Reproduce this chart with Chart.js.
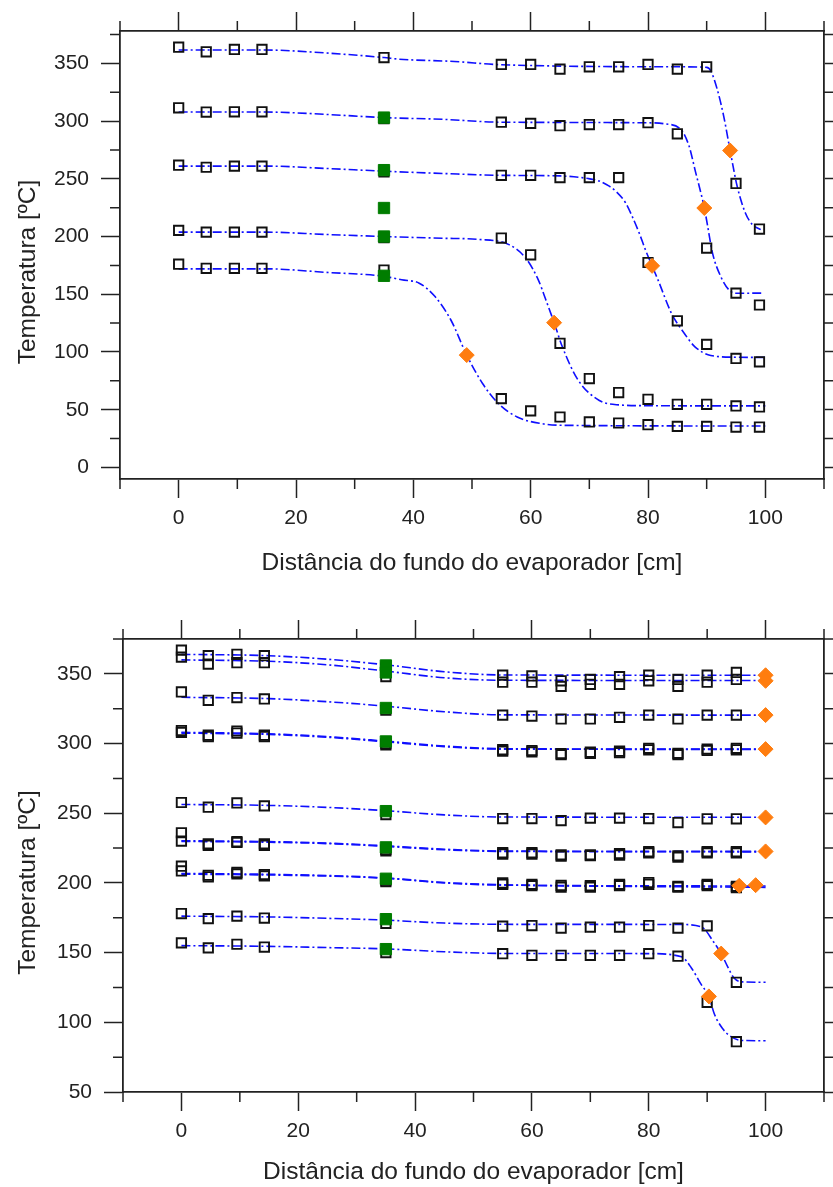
<!DOCTYPE html>
<html lang="pt">
<head>
<meta charset="utf-8">
<title>Perfis de temperatura no evaporador</title>
<script src="https://cdn.jsdelivr.net/npm/chart.js@4/dist/chart.umd.min.js"></script>
<style>
  html, body { margin: 0; padding: 0; background: #fff; }
  #wrap { position: relative; width: 833px; height: 1187px; }
  canvas { position: absolute; left: 0; }
  #chartTop { top: 0; }
  #chartBottom { top: 600px; }
</style>
</head>
<body>
<div id="wrap">
  <canvas id="chartTop" width="833" height="600"></canvas>
  <canvas id="chartBottom" width="833" height="587"></canvas>
</div>
<script>
// ---- marcas dos eixos ----
const xMajor = [0, 20, 40, 60, 80, 100];
const xMinor = [-10, 10, 30, 50, 70, 90, 110];
const yMajorTop = [0, 50, 100, 150, 200, 250, 300, 350];
const yMinorTop = [25, 75, 125, 175, 225, 275, 325, 375];
const yMajorBottom = [50, 100, 150, 200, 250, 300, 350];
const yMinorBottom = [75, 125, 175, 225, 275, 325, 375];

// ---- grafico de cima: medidas (quadrados abertos) ----
const topX  = [0, 4.7, 9.5, 14.2, 35, 55, 60, 65, 70, 75, 80, 85, 90, 95, 99];
const topS1 = [364, 360, 362, 362, 355, 349, 349, 345, 347, 347, 349, 345, 347, 246, 206.5];
const topS2 = [311.5, 307.8, 308, 308, 302, 299, 298, 296, 297, 297, 298.6, 289, 190, 151, 140.7];
const topS3 = [261.8, 260, 261, 261, 256, 253, 253, 251, 251, 251, 177.5, 127, 106.6, 94.4, 91.5];
const topS4 = [205.3, 203.8, 203.8, 203.8, 199, 198.7, 184.2, 107.5, 77, 64.9, 59, 54.7, 54.7, 53.3, 52.4];
const topS5 = [176, 172.5, 172.5, 172.5, 171, 59.6, 49, 43.7, 39.4, 38.5, 37, 35.6, 35.6, 35, 35];

// quadrados verdes e losangos laranja
const topGreenX = [35, 35, 35, 35, 35];
const topGreenY = [303, 257.5, 224.7, 200, 166];
const topDiamondX = [94, 89.6, 80.7, 64, 49.1];
const topDiamondY = [274.5, 224.7, 174.6, 125.4, 97.3];

// curvas ajustadas
const topCurve1 = [[0, 361.5], [15, 361.5], [25, 359], [35, 355], [37.6, 353.6], [47, 351.6], [55, 348.8], [85, 347], [90, 346.5], [90.7, 343.5], [91.8, 327.5], [92.9, 304.3], [94, 274.5], [95.2, 243.5], [96.6, 220.4], [97.8, 210.3], [99.2, 206]];
const topCurve2 = [[0, 307.8], [15, 307.8], [25, 305.8], [35, 303], [45, 301.5], [55, 299], [80, 298.5], [83, 297.5], [85.6, 292.8], [87, 278.3], [88.1, 256], [89, 238], [89.6, 225], [90.1, 211], [91, 185.6], [92.4, 165.4], [93.8, 153.8], [94.9, 150.9], [99.7, 151]];
const topCurve3 = [[0, 261], [15, 261], [25, 259], [35, 256.6], [45, 254.6], [55, 253], [65, 252.5], [69.8, 250.2], [71.7, 248], [73.4, 243.6], [74.5, 239.3], [76.2, 229], [77.3, 217.5], [78.5, 203], [79.6, 188], [80.7, 174.6], [81.7, 162.5], [84, 133.6], [86.2, 116], [88, 104.5], [90.7, 97], [94.8, 95.5], [100, 95.3]];
const topCurve4 = [[0, 203.8], [15, 203.8], [25, 201.8], [35, 200], [45, 198.5], [51.2, 197.5], [56.3, 193], [59.2, 181], [61.3, 162.5], [62.6, 145], [64, 125.4], [65.4, 104.5], [68.1, 75.6], [71.7, 58], [75, 54.2], [80, 53.5], [100, 53.3]];
const topCurve5 = [[0, 172], [15, 172], [25, 169], [35, 165.5], [38, 162.5], [41, 159.6], [43.7, 148], [46.4, 127.7], [49.1, 97.3], [51.8, 72.7], [54.5, 55.3], [57.7, 43.7], [61.8, 38], [65.4, 36.5], [100, 35.9]];

// ---- grafico de baixo: medidas ----
const botX   = [0, 4.6, 9.5, 14.2, 35, 55, 60, 65, 70, 75, 80, 85, 90, 95];
const botA   = [367, 363, 364, 363, 355, 349, 348.5, 345, 346, 348, 349, 346, 349, 351];
const botB   = [362, 357, 358, 358, 348, 344, 344, 341, 342.5, 342.5, 345, 341, 344, 346];
const botC   = [337, 331, 333, 332, 324, 320.4, 319.7, 317.6, 317.6, 318.8, 320.4, 317.6, 320.4, 320.4];
const botD1  = [309.3, 306, 309, 306, 300, 295.6, 295, 292.8, 293.8, 294.5, 296.6, 293, 296, 296.6];
const botD2  = [308, 305, 307.5, 305, 299, 294.5, 294, 292, 293, 293.5, 295.5, 292, 295, 295.5];
const botE   = [257.7, 254.3, 257.4, 255.3, 249, 246.2, 246.2, 244.7, 246.5, 246.5, 246.2, 243.3, 246, 246];
const botF1  = [236, 228, 229.6, 228, 224, 221.7, 221.7, 220.2, 220.2, 221, 222.4, 219.5, 222.4, 222.4];
const botF2  = [230, 227, 229, 227, 223, 220.7, 220.7, 219.2, 219.5, 220, 221.5, 218.5, 221.5, 221.5];
const botG1  = [212, 204.4, 206.5, 205, 202, 200, 199, 198.2, 198, 199, 200.3, 197.5, 199, 196.6];
const botG2  = [208.6, 205.5, 207.5, 206, 201, 199, 198, 197, 197, 198, 199, 197, 198, 197.5];
const botH   = [178, 174.4, 176.2, 174.8, 171, 169, 169.4, 167.6, 168.3, 168.3, 169.4, 167.6, 169.2, 128.7];
const botI   = [157, 153.4, 156, 154, 150, 149.2, 148.1, 148.1, 148.1, 148.1, 149.2, 147.4, 114.3, 86.1];

const botGreenX = [35, 35, 35, 35, 35, 35, 35, 35, 35];
const botGreenY = [356, 351, 325.5, 301.5, 251.5, 225.5, 203, 174, 152.5];
const botDiamondX = [100, 100, 100, 100, 100, 100, 95.5, 98.3, 92.4, 90.3];
const botDiamondY = [349, 345, 320.4, 296, 247, 222.6, 198, 198.4, 149.3, 118.6];

const botCurveA  = [[0, 364], [15, 363], [25, 360.5], [35, 356.5], [45, 351.5], [55, 349.2], [100, 349]];
const botCurveB  = [[0, 360], [15, 359], [25, 356.5], [35, 352], [45, 347.2], [55, 345.4], [100, 345.2]];
const botCurveC  = [[0, 333.2], [15, 332.2], [25, 330], [35, 326.8], [45, 322.8], [55, 320.6], [100, 320.4]];
const botCurveD1 = [[0, 308], [15, 307], [25, 305], [35, 301.7], [45, 298.2], [55, 296.3], [100, 296]];
const botCurveD2 = [[0, 307.5], [15, 306.5], [25, 304.5], [35, 301.2], [45, 297.8], [55, 296], [100, 295.8]];
const botCurveE  = [[0, 256.3], [15, 255.6], [25, 254.2], [35, 251.8], [45, 248.8], [55, 247.3], [100, 247.1]];
const botCurveF1 = [[0, 230.3], [15, 229.6], [25, 228.6], [35, 226.6], [45, 224.2], [55, 222.9], [100, 222.6]];
const botCurveF2 = [[0, 229.8], [15, 229.2], [25, 228.2], [35, 226.2], [45, 223.8], [55, 222.6], [100, 222.3]];
const botCurveG1 = [[0, 206.3], [15, 205.7], [25, 204.9], [35, 203.3], [45, 200], [55, 198.4], [100, 197.8]];
const botCurveG2 = [[0, 206.8], [15, 206.2], [25, 205.3], [35, 203.6], [45, 200.3], [55, 198.7], [100, 196.8]];
const botCurveH  = [[0, 176.2], [15, 175.6], [25, 174.6], [35, 173.3], [45, 171.2], [55, 170.3], [85, 170.2], [89, 168.5], [91.2, 157], [92.4, 149.3], [93.5, 140], [94.6, 131.8], [96, 129], [100, 128.7]];
const botCurveI  = [[0, 155], [15, 154.5], [25, 153.6], [35, 152.7], [45, 150.6], [55, 149.4], [80, 149.3], [85.6, 147], [87.3, 139], [89, 127], [90.3, 118.6], [91.2, 106.3], [92.6, 95.7], [94.1, 89.7], [95.8, 87], [100, 86.8]];

// ---- estilo ----
const FONT = "'Liberation Sans', Arial, Helvetica, sans-serif";
const INK = '#222';
const BLUE = 'rgb(15, 15, 255)';
const GREEN = 'rgb(0, 125, 0)';
const ORANGE = 'rgb(255, 125, 15)';
// espacos no fim empurram o titulo vertical um pouco para baixo, como no original
const Y_TITLE = 'Temperatura [ºC]     ';

function pairs(xs, ys) {
    return xs.map((x, i) => ({ x: x, y: ys[i] }));
}

function squares(xs, ys) {
    return {
        data: pairs(xs, ys),
        pointStyle: 'rect', pointRadius: 6.6, pointBorderWidth: 1.9,
        borderColor: '#111', backgroundColor: 'rgba(0,0,0,0)',
        order: 2
    };
}

function fitted(pts) {
    return {
        data: pts.map(p => ({ x: p[0], y: p[1] })),
        showLine: true, pointRadius: 0,
        borderColor: BLUE, borderWidth: 1.6, borderDash: [9, 3, 2, 3],
        cubicInterpolationMode: 'monotone',
        order: 3
    };
}

function filled(xs, ys, style, color, radius, order) {
    return {
        data: pairs(xs, ys),
        pointStyle: style, pointRadius: radius, pointBorderWidth: 1,
        borderColor: color, backgroundColor: color,
        order: order
    };
}

// marcas menores nos quatro lados
const minorTicks = {
    id: 'minorTicks',
    afterDraw(chart, args, opts) {
        const { ctx, chartArea: a, scales } = chart;
        const len = opts.length;
        ctx.save();
        ctx.strokeStyle = opts.color;
        ctx.lineWidth = opts.width;
        ctx.beginPath();
        opts.x.forEach(v => {
            const px = scales.x.getPixelForValue(v);
            ctx.moveTo(px, a.bottom); ctx.lineTo(px, a.bottom + len);
            ctx.moveTo(px, a.top); ctx.lineTo(px, a.top - len);
        });
        opts.y.forEach(v => {
            const py = scales.y.getPixelForValue(v);
            ctx.moveTo(a.left, py); ctx.lineTo(a.left - len, py);
            ctx.moveTo(a.right, py); ctx.lineTo(a.right + len, py);
        });
        ctx.stroke();
        ctx.restore();
    }
};

function frameAxis(position, min, max, majors, size, extra) {
    const horizontal = position === 'top' || position === 'bottom';
    return Object.assign({
        type: 'linear', position: position, min: min, max: max,
        afterBuildTicks: s => { s.ticks = majors.map(v => ({ value: v })); },
        afterFit: s => { if (horizontal) s.height = size; else s.width = size; },
        grid: { drawOnChartArea: false, drawTicks: true, tickLength: 19, tickWidth: 1.5, tickColor: INK },
        border: { display: true, color: INK, width: 1.8 },
        ticks: { display: false }
    }, extra);
}

function labelTicks(pad) {
    return { display: true, font: { family: FONT, size: 21 }, color: INK, padding: pad, autoSkip: false, maxRotation: 0 };
}

function makeChart(id, datasets, box) {
    const ctx = document.getElementById(id);
    return new Chart(ctx, {
        type: 'scatter',
        data: { datasets: datasets },
        options: {
            responsive: false,
            animation: false,
            devicePixelRatio: 1,
            events: [],
            layout: { padding: 0 },
            scales: {
                x: frameAxis('bottom', -10, 110, xMajor, box.bottom, {
                    ticks: labelTicks(box.xPad),
                    title: {
                        display: true, text: 'Distância do fundo do evaporador [cm]',
                        font: { family: FONT, size: 24.5 }, color: INK,
                        padding: { top: 0, bottom: box.xTitlePad }
                    }
                }),
                x2: frameAxis('top', -10, 110, xMajor, box.top),
                y: frameAxis('left', box.yMin, box.yMax, box.yMajor, box.left, {
                    ticks: labelTicks(12),
                    title: {
                        display: true, text: Y_TITLE,
                        font: { family: FONT, size: 24.5 }, color: INK,
                        padding: { top: 14, bottom: 0 }
                    }
                }),
                y2: frameAxis('right', box.yMin, box.yMax, box.yMajor, box.right)
            },
            plugins: {
                legend: { display: false },
                tooltip: { enabled: false },
                minorTicks: { x: xMinor, y: box.yMinor, length: 10, color: INK, width: 1.5 }
            }
        },
        plugins: [minorTicks]
    });
}

// grafico de cima
makeChart('chartTop', [
    filled(topDiamondX, topDiamondY, 'rectRot', ORANGE, 7.5, 0),
    filled(topGreenX, topGreenY, 'rect', GREEN, 8, 1),
    squares(topX, topS1), squares(topX, topS2), squares(topX, topS3),
    squares(topX, topS4), squares(topX, topS5),
    fitted(topCurve1), fitted(topCurve2), fitted(topCurve3),
    fitted(topCurve4), fitted(topCurve5)
], {
    yMin: -10, yMax: 378, yMajor: yMajorTop, yMinor: yMinorTop,
    left: 120, right: 8, top: 31, bottom: 121, xPad: 8, xTitlePad: 22
});

// grafico de baixo
makeChart('chartBottom', [
    filled(botDiamondX, botDiamondY, 'rectRot', ORANGE, 7.5, 0),
    filled(botGreenX, botGreenY, 'rect', GREEN, 8, 1),
    squares(botX, botA), squares(botX, botB), squares(botX, botC),
    squares(botX, botD1), squares(botX, botD2), squares(botX, botE),
    squares(botX, botF1), squares(botX, botF2), squares(botX, botG1),
    squares(botX, botG2), squares(botX, botH), squares(botX, botI),
    fitted(botCurveA), fitted(botCurveB), fitted(botCurveC),
    fitted(botCurveD1), fitted(botCurveD2), fitted(botCurveE),
    fitted(botCurveF1), fitted(botCurveF2), fitted(botCurveG1),
    fitted(botCurveG2), fitted(botCurveH), fitted(botCurveI)
], {
    yMin: 50, yMax: 375, yMajor: yMajorBottom, yMinor: yMinorBottom,
    left: 123, right: 1.5, top: 39, bottom: 95, xPad: 8, xTitlePad: 0
});
</script>
</body>
</html>
